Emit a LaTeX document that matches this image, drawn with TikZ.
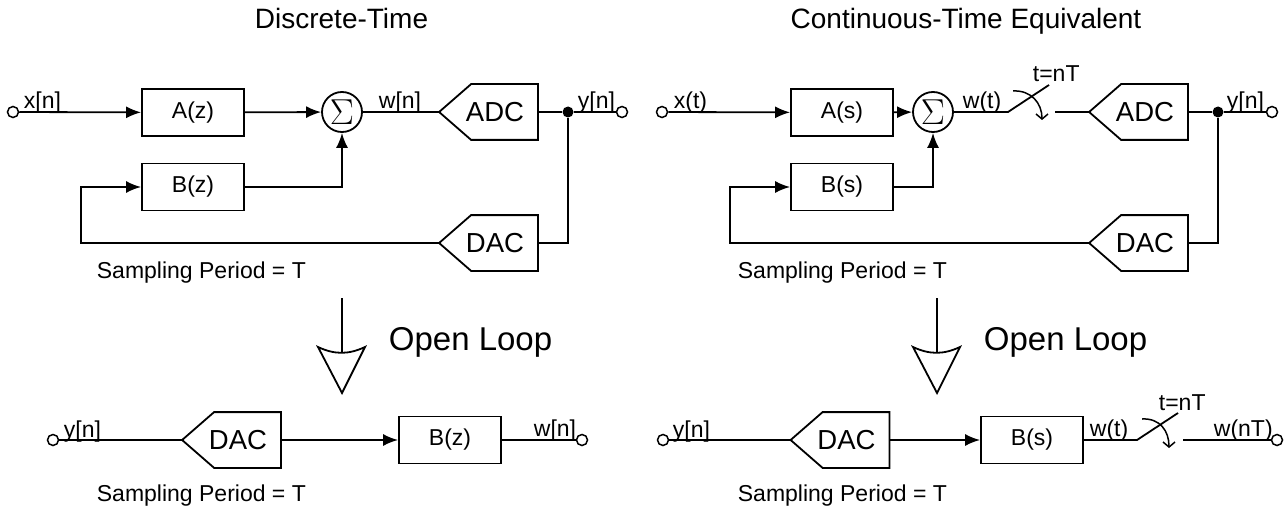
\documentclass[tikz,border=0pt]{standalone}
\usepackage{fontspec}
\usepackage{graphicx}
\setmainfont{Liberation Sans}
\usetikzlibrary{arrows.meta}

\begin{document}
\begin{tikzpicture}[x=1pt, y=-1pt, line width=1.8pt,
  every node/.style={font=\fontsize{23pt}{27pt}\selectfont},
  block/.style={draw, minimum width=102pt, minimum height=47pt, inner sep=0pt},
  conv/.style={minimum width=97pt, minimum height=54pt, inner sep=0pt,
    font=\fontsize{27.5pt}{32pt}\selectfont, execute at begin node={\hspace*{13pt}}},
  sum/.style={draw, circle, minimum size=40pt, inner sep=0pt},
  port/.style={draw, circle, minimum size=11pt, inner sep=0pt, line width=1.5pt},
  junc/.style={fill, circle, minimum size=11pt, inner sep=0pt},
  lbl/.style={anchor=base west, inner sep=0pt},
  title/.style={anchor=base, inner sep=0pt, font=\fontsize{28pt}{33pt}\selectfont},
  big/.style={anchor=base west, inner sep=0pt, font=\fontsize{33pt}{38pt}\selectfont},
  arr/.style={-{Latex[length=15pt,width=12pt]}},
  sw/.style={-{Straight Barb[length=5pt,width=12pt]}, line width=1.5pt}]
  \useasboundingbox (0,0) rectangle (1288,508);
  % ---------- DISCRETE-TIME ----------
  \node[title] (T1) at (341.5,29) {Discrete-Time};
  \node[port] (X1) at (13,112) {};
  \node[lbl] (X1l) at (23,109) {x[n]};
  \node[block] (A1) at (193,112.5) {A(z)};
  \node[block] (B1) at (193,187) {B(z)};
  \node[sum] (S1) at (342,112) {\scalebox{1.45}{$\Sigma$}};
  \node[lbl] (W1l) at (378,109) {w[n]};
  \node[conv] (ADC1) at (488.5,112) {ADC};
  \node[junc] (J1) at (568,112) {};
  \node[lbl] (Y1l) at (577,109) {y[n]};
  \node[port] (Y1) at (622,112) {};
  \node[conv] (DAC1) at (488.5,243) {DAC};
  \coordinate (F1) at (81,243);
  \node[lbl] (SP1) at (96,278) {Sampling Period = T};
  \draw[arr] (X1) -- (A1);
  \draw[arr] (A1) -- (S1);
  \draw[arr] (B1) -| (S1);
  \draw (S1) -- (ADC1);
  \draw (ADC1) -- (J1) -- (Y1);
  \draw (J1) |- (DAC1);
  \draw[arr] (DAC1) -- (F1) |- (B1);
  % ---------- CONTINUOUS-TIME ----------
  \node[title] (T2) at (966,29) {Continuous-Time Equivalent};
  \node[port] (X2) at (662,112) {};
  \node[lbl] (X2l) at (673,109) {x(t)};
  \node[block] (A2) at (842,112.5) {A(s)};
  \node[block] (B2) at (842,187) {B(s)};
  \node[sum] (S2) at (933,112) {\scalebox{1.45}{$\Sigma$}};
  \node[lbl] (W2l) at (962,109) {w(t)};
  \coordinate (P2) at (1008,112);
  \coordinate (Q2) at (1049,85);
  \coordinate (R2) at (1055,112);
  \node[lbl] (N2l) at (1032,82) {t=nT};
  \node[conv] (ADC2) at (1138.5,112) {ADC};
  \node[junc] (J2) at (1218,112) {};
  \node[lbl] (Y2l) at (1226,109) {y[n]};
  \node[port] (Y2) at (1272,112) {};
  \node[conv] (DAC2) at (1138.5,243) {DAC};
  \coordinate (F2) at (730,243);
  \node[lbl] (SP2) at (737,278) {Sampling Period = T};
  \draw[arr] (X2) -- (A2);
  \draw[arr] (A2) -- (S2);
  \draw[arr] (B2) -| (S2);
  \draw (S2) -- (P2) -- (Q2);
  \draw[sw] (1013,91) .. controls (1031,90) and (1042,103) .. (1042,120);
  \draw (R2) -- (ADC2);
  \draw (ADC2) -- (J2) -- (Y2);
  \draw (J2) |- (DAC2);
  \draw[arr] (DAC2) -- (F2) |- (B2);
  % ---------- OPEN LOOP ARROWS ----------
  \foreach \x/\n in {342/1,937/2} {
    \draw (\x,298) -- (\x,353);
    \draw (\x+23,347) to[bend left=25] (\x-24,347) -- (\x,393) -- cycle;
  }
  \node[big] (OL1) at (388,350) {Open Loop};
  \node[big] (OL2) at (983,350) {Open Loop};
  % ---------- OPEN LOOP: DISCRETE ----------
  \node[port] (Y3) at (53,440) {};
  \node[lbl] (Y3l) at (63,437) {y[n]};
  \node[conv] (DAC3) at (231.5,440) {DAC};
  \node[block] (B3) at (450,440) {B(z)};
  \node[lbl] (W3l) at (533,436) {w[n]};
  \node[port] (W3) at (582,440) {};
  \node[lbl] (SP3) at (96,501) {Sampling Period = T};
  \draw (Y3) -- (DAC3);
  \draw[arr] (DAC3) -- (B3);
  \draw (B3) -- (W3);
  % ---------- OPEN LOOP: CONTINUOUS ----------
  \node[port] (Y4) at (663,440) {};
  \node[lbl] (Y4l) at (672,437) {y[n]};
  \node[conv] (DAC4) at (840,440) {DAC};
  \node[block] (B4) at (1032,440) {B(s)};
  \node[lbl] (W4l) at (1089,436) {w(t)};
  \coordinate (P4) at (1137,440);
  \coordinate (Q4) at (1178,413);
  \coordinate (R4) at (1183,440);
  \node[lbl] (N4l) at (1158,410) {t=nT};
  \node[lbl] (WT4l) at (1213,436) {w(nT)};
  \node[port] (W4) at (1277,440) {};
  \node[lbl] (SP4) at (737,501) {Sampling Period = T};
  \draw (Y4) -- (DAC4);
  \draw[arr] (DAC4) -- (B4);
  \draw (B4) -- (P4) -- (Q4);
  \draw[sw] (1142,419) .. controls (1160,418) and (1169,431) .. (1169,448);
  \draw (R4) -- (W4);
  % converter outlines
  \foreach \c in {ADC1,DAC1,ADC2,DAC2,DAC3,DAC4}
    \draw (\c.west) -- ([xshift=32pt]\c.north west) -- (\c.north east)
      -- (\c.south east) -- ([xshift=32pt]\c.south west) -- cycle;
\end{tikzpicture}
\end{document}
